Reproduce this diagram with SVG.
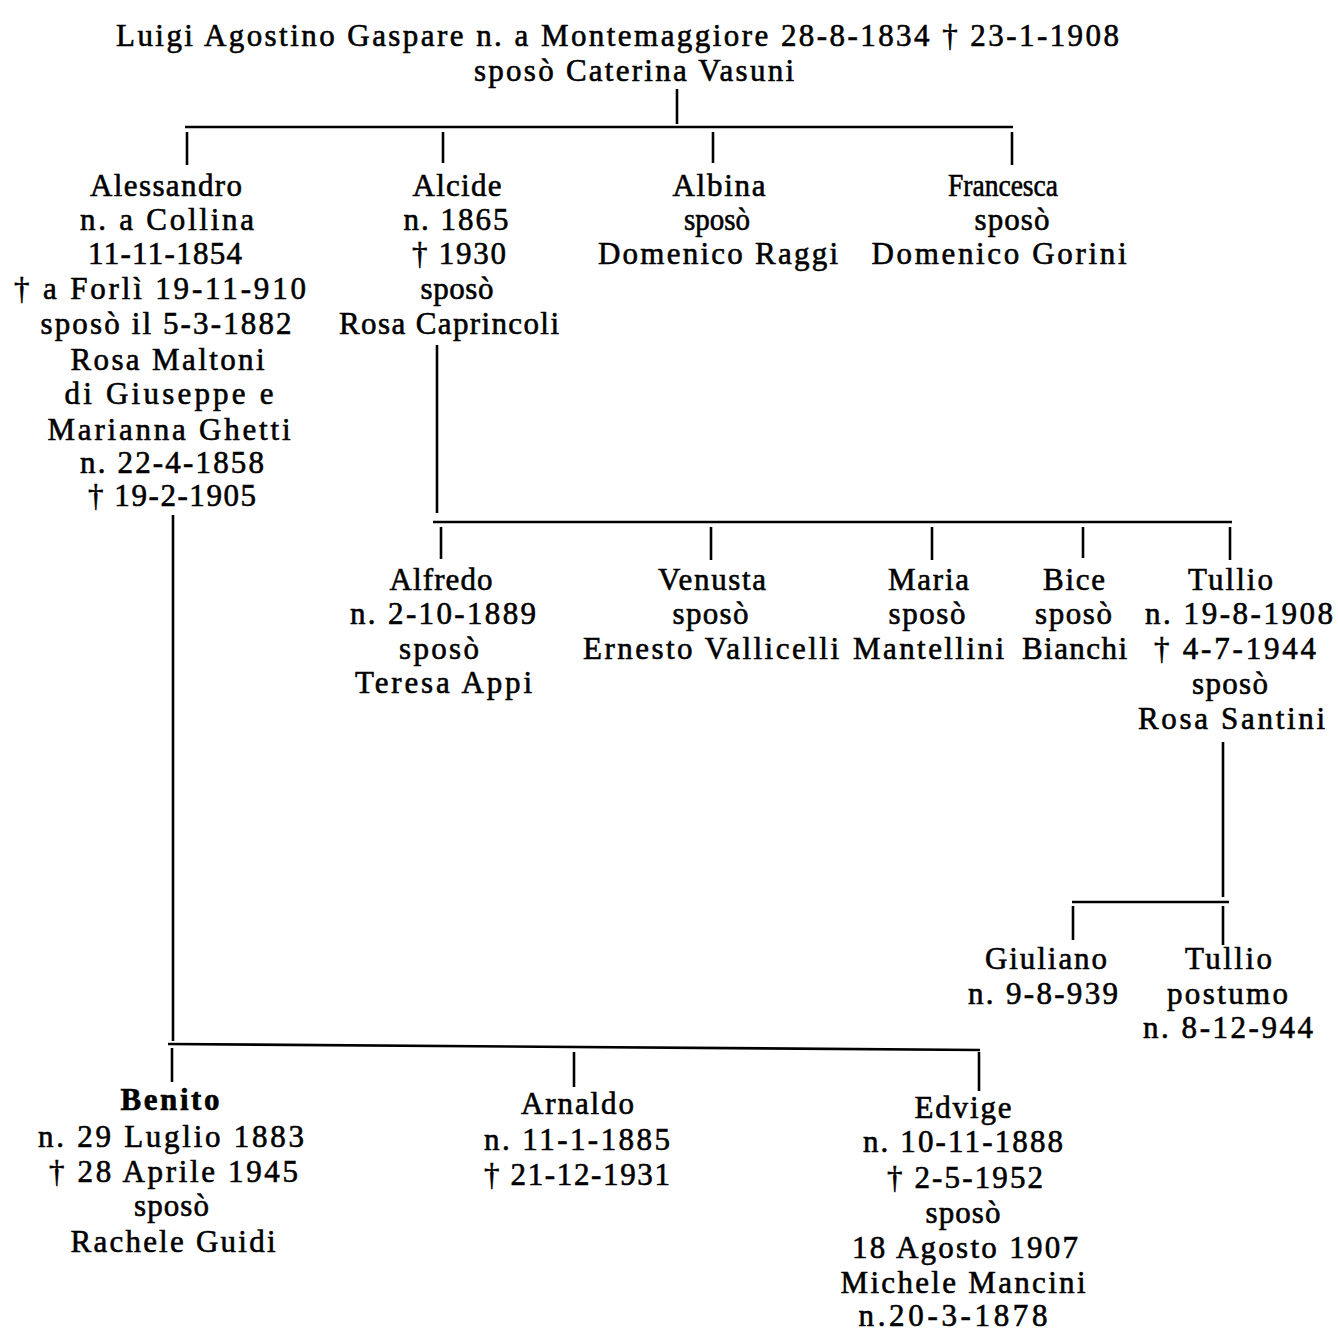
<svg xmlns="http://www.w3.org/2000/svg" width="1338" height="1333" viewBox="0 0 1338 1333">
<style>
text{font-family:"Liberation Serif","Times New Roman",serif;font-size:31px;text-anchor:middle;fill:#000;stroke:#000;stroke-width:0.6px}
.b{font-weight:bold}
.c line{stroke:#000;stroke-width:2.6;stroke-linecap:butt}
</style>
<rect width="1338" height="1333" fill="#fff"/>
<g class="c" id="connectors">
<line x1="677" y1="89" x2="677" y2="124"/>
<line x1="185" y1="127" x2="1013" y2="127"/>
<line x1="187" y1="132" x2="187" y2="165"/>
<line x1="443" y1="132" x2="443" y2="163"/>
<line x1="713" y1="132" x2="713" y2="163"/>
<line x1="1012" y1="132" x2="1012" y2="165"/>
<line x1="437" y1="345" x2="437" y2="513"/>
<line x1="433" y1="522" x2="1232" y2="522"/>
<line x1="441" y1="527" x2="441" y2="559"/>
<line x1="711" y1="527" x2="711" y2="560"/>
<line x1="932" y1="527" x2="932" y2="560"/>
<line x1="1083" y1="527" x2="1083" y2="558"/>
<line x1="1230" y1="527" x2="1230" y2="560"/>
<line x1="1223" y1="742" x2="1223" y2="897"/>
<line x1="1072" y1="902" x2="1229" y2="902"/>
<line x1="1073" y1="906" x2="1073" y2="940"/>
<line x1="1223" y1="906" x2="1223" y2="945"/>
<line x1="173" y1="515" x2="173" y2="1041"/>
<line x1="168" y1="1044" x2="980" y2="1050"/>
<line x1="172" y1="1048" x2="172" y2="1082"/>
<line x1="574" y1="1052" x2="574" y2="1087"/>
<line x1="979" y1="1052" x2="979" y2="1091"/>
</g>
<g id="luigi">
<text x="617.5" y="46" textLength="1003" lengthAdjust="spacing">Luigi Agostino Gaspare n. a Montemaggiore 28-8-1834 † 23-1-1908</text>
<text x="634" y="81" textLength="320" lengthAdjust="spacing">sposò Caterina Vasuni</text>
</g>
<g id="alessandro">
<text x="166" y="196" textLength="152" lengthAdjust="spacing">Alessandro</text>
<text x="167" y="230" textLength="174" lengthAdjust="spacing">n. a Collina</text>
<text x="165" y="264" textLength="154" lengthAdjust="spacing">11-11-1854</text>
<text x="160" y="299" textLength="292" lengthAdjust="spacing">† a Forlì 19-11-910</text>
<text x="166" y="334" textLength="251" lengthAdjust="spacing">sposò il 5-3-1882</text>
<text x="167.5" y="370" textLength="194" lengthAdjust="spacing">Rosa Maltoni</text>
<text x="169" y="404" textLength="209" lengthAdjust="spacing">di Giuseppe e</text>
<text x="169" y="440" textLength="243" lengthAdjust="spacing">Marianna Ghetti</text>
<text x="172" y="473" textLength="184" lengthAdjust="spacing">n. 22-4-1858</text>
<text x="172" y="506" textLength="168" lengthAdjust="spacing">† 19-2-1905</text>
</g>
<g id="alcide">
<text x="457" y="196" textLength="89" lengthAdjust="spacing">Alcide</text>
<text x="456" y="230" textLength="105" lengthAdjust="spacing">n. 1865</text>
<text x="459" y="264" textLength="94" lengthAdjust="spacing">† 1930</text>
<text x="457" y="299" textLength="73" lengthAdjust="spacing">sposò</text>
<text x="449" y="334" textLength="220" lengthAdjust="spacing">Rosa Caprincoli</text>
</g>
<g id="albina">
<text x="719" y="196" textLength="93" lengthAdjust="spacing">Albina</text>
<text x="717" y="230" textLength="66" lengthAdjust="spacingAndGlyphs">sposò</text>
<text x="718" y="264" textLength="240" lengthAdjust="spacing">Domenico Raggi</text>
</g>
<g id="francesca">
<text x="1003" y="196" textLength="110" lengthAdjust="spacingAndGlyphs">Francesca</text>
<text x="1012" y="230" textLength="75" lengthAdjust="spacing">sposò</text>
<text x="999" y="264" textLength="255" lengthAdjust="spacing">Domenico Gorini</text>
</g>
<g id="alfredo">
<text x="441" y="590" textLength="103" lengthAdjust="spacing">Alfredo</text>
<text x="443" y="624" textLength="186" lengthAdjust="spacing">n. 2-10-1889</text>
<text x="439" y="659" textLength="80" lengthAdjust="spacing">sposò</text>
<text x="443.5" y="693" textLength="177" lengthAdjust="spacing">Teresa Appi</text>
</g>
<g id="venusta">
<text x="712" y="590" textLength="108" lengthAdjust="spacing">Venusta</text>
<text x="710.5" y="624" textLength="76" lengthAdjust="spacing">sposò</text>
<text x="711" y="659" textLength="256" lengthAdjust="spacing">Ernesto Vallicelli</text>
</g>
<g id="maria">
<text x="928.5" y="590" textLength="81" lengthAdjust="spacing">Maria</text>
<text x="927" y="624" textLength="77" lengthAdjust="spacing">sposò</text>
<text x="928.5" y="659" textLength="151" lengthAdjust="spacing">Mantellini</text>
</g>
<g id="bice">
<text x="1074" y="590" textLength="62" lengthAdjust="spacing">Bice</text>
<text x="1073.5" y="624" textLength="77" lengthAdjust="spacing">sposò</text>
<text x="1074.5" y="659" textLength="105" lengthAdjust="spacing">Bianchi</text>
</g>
<g id="tullio">
<text x="1230.5" y="590" textLength="85" lengthAdjust="spacing">Tullio</text>
<text x="1239" y="624" textLength="188" lengthAdjust="spacing">n. 19-8-1908</text>
<text x="1235" y="659" textLength="162" lengthAdjust="spacing">† 4-7-1944</text>
<text x="1230" y="694" textLength="76" lengthAdjust="spacing">sposò</text>
<text x="1231.5" y="729" textLength="187" lengthAdjust="spacing">Rosa Santini</text>
</g>
<g id="giuliano">
<text x="1046" y="969" textLength="122" lengthAdjust="spacing">Giuliano</text>
<text x="1043" y="1004" textLength="150" lengthAdjust="spacing">n. 9-8-939</text>
</g>
<g id="tullio-postumo">
<text x="1228.5" y="969" textLength="87" lengthAdjust="spacing">Tullio</text>
<text x="1227.5" y="1004" textLength="121" lengthAdjust="spacing">postumo</text>
<text x="1228" y="1038" textLength="170" lengthAdjust="spacing">n. 8-12-944</text>
</g>
<g id="benito">
<text class="b" x="170" y="1110" textLength="99" lengthAdjust="spacing">Benito</text>
<text x="171" y="1147" textLength="266" lengthAdjust="spacing">n. 29 Luglio 1883</text>
<text x="173.5" y="1182" textLength="249" lengthAdjust="spacing">† 28 Aprile 1945</text>
<text x="171.5" y="1216" textLength="75" lengthAdjust="spacing">sposò</text>
<text x="173" y="1252" textLength="205" lengthAdjust="spacing">Rachele Guidi</text>
</g>
<g id="arnaldo">
<text x="577.5" y="1114" textLength="113" lengthAdjust="spacing">Arnaldo</text>
<text x="577" y="1150" textLength="186" lengthAdjust="spacing">n. 11-1-1885</text>
<text x="577" y="1185" textLength="186" lengthAdjust="spacing">† 21-12-1931</text>
</g>
<g id="edvige">
<text x="963" y="1118" textLength="97" lengthAdjust="spacing">Edvige</text>
<text x="963" y="1152" textLength="200" lengthAdjust="spacing">n. 10-11-1888</text>
<text x="965" y="1188" textLength="156" lengthAdjust="spacing">† 2-5-1952</text>
<text x="963" y="1223" textLength="75" lengthAdjust="spacing">sposò</text>
<text x="965" y="1258" textLength="226" lengthAdjust="spacing">18 Agosto 1907</text>
<text x="963" y="1293" textLength="245" lengthAdjust="spacing">Michele Mancini</text>
<text x="953" y="1326" textLength="189" lengthAdjust="spacing">n.20-3-1878</text>
</g>
</svg>
